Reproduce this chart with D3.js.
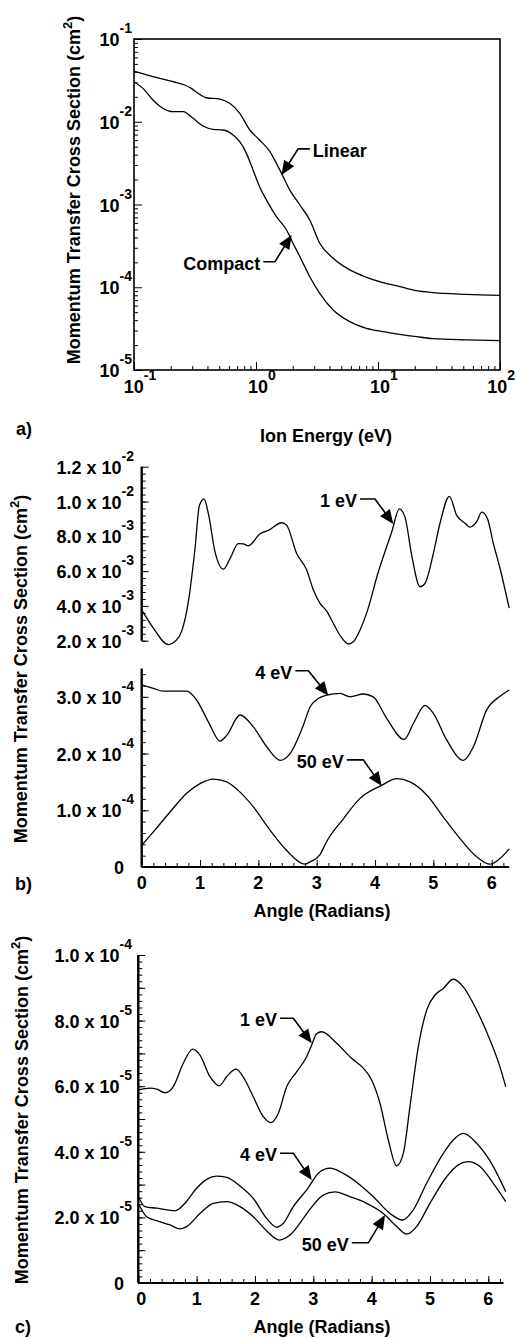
<!DOCTYPE html>
<html>
<head>
<meta charset="utf-8">
<script src="https://cdn.jsdelivr.net/npm/d3@7"></script>
<style>
body { margin: 0; background: #fff; }
svg text { font-family: "Liberation Sans", Arial, Helvetica, sans-serif; font-weight: bold; fill: #000; }
.tick line { stroke: #000; stroke-width: 1; }
</style>
</head>
<body>
<svg id="fig"></svg>
<script>
var w = 516;
var h = 1338;

// ---- panel a: cross section vs ion energy (log-log)
var energyLinear = [0.1, 0.143, 0.209, 0.260, 0.295, 0.346, 0.392, 0.505, 0.609, 0.736, 0.889, 1.07, 1.30, 1.47, 1.67, 1.89, 2.29, 2.76, 3.33, 4.29, 5.87, 8.05, 11.0, 15.1, 20.7, 28.4, 53.2, 100];
var sigmaLinear = [0.0410, 0.0351, 0.0305, 0.0278, 0.0253, 0.0214, 0.0195, 0.0188, 0.0167, 0.01265, 0.00795, 0.00602, 0.00435, 0.00314, 0.00217, 0.00150, 0.000986, 0.000650, 0.000340, 0.000224, 0.000162, 0.000132, 0.000114, 0.000102, 0.0000910, 0.0000861, 0.0000821, 0.0000798];
var energyCompact = [0.1, 0.1185, 0.143, 0.173, 0.209, 0.253, 0.305, 0.368, 0.445, 0.537, 0.649, 0.736, 0.835, 0.946, 1.07, 1.22, 1.47, 1.78, 2.01, 2.29, 2.76, 3.33, 4.29, 5.87, 8.05, 11.0, 15.1, 20.7, 28.4, 53.2, 100];
var sigmaCompact = [0.0305, 0.0253, 0.0183, 0.0145, 0.01324, 0.01324, 0.0110, 0.00889, 0.00810, 0.00795, 0.00692, 0.00574, 0.00415, 0.00261, 0.00164, 0.00113, 0.000713, 0.000492, 0.000340, 0.000234, 0.000134, 0.0000845, 0.0000531, 0.0000384, 0.0000319, 0.0000291, 0.0000270, 0.0000253, 0.0000239, 0.0000231, 0.0000226];
var aXTicks = [0.1, 1, 10, 100];
var aXExp = ["-1", "0", "1", "2"];
var aYTicks = [1e-5, 1e-4, 1e-3, 1e-2, 1e-1];
var aYExp = ["-5", "-4", "-3", "-2", "-1"];

// ---- panel b: cross section vs angle, broken axis
var angleB1 = [0, 0.2, 0.457, 0.571, 0.686, 0.8, 0.914, 0.989, 1.069, 1.143, 1.257, 1.40, 1.514, 1.657, 1.742, 1.829, 2.029, 2.171, 2.40, 2.486, 2.657, 2.829, 2.943, 3.057, 3.171, 3.285, 3.40, 3.543, 3.628, 3.743, 3.857, 4.057, 4.286, 4.417, 4.514, 4.629, 4.771, 4.857, 5.0, 5.114, 5.274, 5.40, 5.543, 5.629, 5.743, 5.829, 5.929, 6.028, 6.143, 6.3];
var sigmaB1 = [3.77e-3, 2.72e-3, 1.77e-3, 1.95e-3, 2.55e-3, 4.25e-3, 7.30e-3, 9.77e-3, 10.15e-3, 9.30e-3, 7.10e-3, 6.11e-3, 6.72e-3, 7.58e-3, 7.56e-3, 7.45e-3, 8.15e-3, 8.34e-3, 8.78e-3, 8.63e-3, 7.01e-3, 6.06e-3, 4.91e-3, 4.15e-3, 3.70e-3, 3.00e-3, 2.30e-3, 1.81e-3, 1.94e-3, 2.62e-3, 3.60e-3, 5.96e-3, 8.25e-3, 9.58e-3, 9.10e-3, 6.91e-3, 5.10e-3, 5.30e-3, 7.02e-3, 8.75e-3, 10.30e-3, 9.20e-3, 8.75e-3, 8.53e-3, 8.84e-3, 9.39e-3, 9.00e-3, 7.59e-3, 6.15e-3, 3.87e-3];
var angleB4 = [0, 0.2, 0.371, 0.771, 0.943, 1.143, 1.343, 1.457, 1.686, 1.914, 2.143, 2.371, 2.543, 2.771, 2.886, 3.0, 3.171, 3.4, 3.571, 3.8, 3.97, 4.2, 4.5, 4.657, 4.857, 5.0, 5.229, 5.514, 5.686, 5.914, 6.143, 6.3];
var sigmaB4 = [3.21e-4, 3.15e-4, 3.10e-4, 3.10e-4, 2.94e-4, 2.56e-4, 2.22e-4, 2.32e-4, 2.68e-4, 2.47e-4, 2.12e-4, 1.88e-4, 2.00e-4, 2.50e-4, 2.82e-4, 2.95e-4, 3.03e-4, 3.06e-4, 3.00e-4, 3.05e-4, 3.00e-4, 2.62e-4, 2.25e-4, 2.53e-4, 2.85e-4, 2.71e-4, 2.24e-4, 1.88e-4, 2.12e-4, 2.77e-4, 3.01e-4, 3.12e-4];
var angleB50 = [0, 0.2, 0.486, 0.771, 1.0, 1.229, 1.457, 1.686, 1.914, 2.2, 2.486, 2.8, 2.886, 3.057, 3.171, 3.457, 3.743, 4.114, 4.371, 4.6, 4.886, 5.171, 5.457, 5.743, 5.971, 6.143, 6.3];
var sigmaB50 = [0.38e-4, 0.62e-4, 0.97e-4, 1.30e-4, 1.47e-4, 1.55e-4, 1.50e-4, 1.32e-4, 1.06e-4, 0.65e-4, 0.29e-4, 0.05e-4, 0.09e-4, 0.22e-4, 0.45e-4, 0.85e-4, 1.21e-4, 1.44e-4, 1.56e-4, 1.50e-4, 1.27e-4, 0.88e-4, 0.50e-4, 0.18e-4, 0.05e-4, 0.15e-4, 0.32e-4];
var bTopTicks = [2e-3, 4e-3, 6e-3, 8e-3, 1.0e-2, 1.2e-2];
var bTopLabels = ["2.0 x 10", "4.0 x 10", "6.0 x 10", "8.0 x 10", "1.0 x 10", "1.2 x 10"];
var bTopExp = ["-3", "-3", "-3", "-3", "-2", "-2"];
var bLowTicks = [0, 1e-4, 2e-4, 3e-4];
var bLowLabels = ["0", "1.0 x 10", "2.0 x 10", "3.0 x 10"];
var bLowExp = ["", "-4", "-4", "-4"];
var angleTicks = [0, 1, 2, 3, 4, 5, 6];
var angleLabels = ["0", "1", "2", "3", "4", "5", "6"];

// ---- panel c
var angleC1 = [0, 0.2, 0.314, 0.457, 0.6, 0.771, 0.932, 1.057, 1.229, 1.389, 1.514, 1.675, 1.829, 1.971, 2.143, 2.269, 2.40, 2.543, 2.714, 2.886, 2.971, 3.057, 3.143, 3.40, 3.657, 3.857, 4.0, 4.143, 4.286, 4.429, 4.543, 4.657, 4.80, 4.943, 5.086, 5.229, 5.40, 5.571, 5.80, 6.029, 6.2, 6.3];
var sigmaC1 = [5.88e-5, 5.94e-5, 5.91e-5, 5.80e-5, 5.99e-5, 6.70e-5, 7.13e-5, 6.95e-5, 6.29e-5, 6.01e-5, 6.29e-5, 6.52e-5, 6.19e-5, 5.68e-5, 5.07e-5, 4.89e-5, 5.17e-5, 5.98e-5, 6.44e-5, 6.90e-5, 7.25e-5, 7.60e-5, 7.66e-5, 7.31e-5, 6.85e-5, 6.55e-5, 6.19e-5, 5.48e-5, 4.36e-5, 3.57e-5, 3.95e-5, 5.38e-5, 7.20e-5, 8.32e-5, 8.78e-5, 8.98e-5, 9.26e-5, 9.03e-5, 8.32e-5, 7.41e-5, 6.59e-5, 5.98e-5];
var angleC4 = [0, 0.114, 0.314, 0.486, 0.629, 0.8, 1.0, 1.171, 1.343, 1.514, 1.743, 1.971, 2.20, 2.371, 2.486, 2.657, 2.886, 3.114, 3.286, 3.514, 3.80, 4.029, 4.314, 4.532, 4.714, 4.943, 5.229, 5.40, 5.571, 5.80, 6.086, 6.3];
var sigmaC4 = [2.63e-5, 2.33e-5, 2.28e-5, 2.23e-5, 2.20e-5, 2.43e-5, 2.89e-5, 3.16e-5, 3.26e-5, 3.22e-5, 2.96e-5, 2.58e-5, 1.97e-5, 1.70e-5, 1.82e-5, 2.33e-5, 2.84e-5, 3.39e-5, 3.50e-5, 3.34e-5, 2.99e-5, 2.63e-5, 2.12e-5, 1.92e-5, 2.23e-5, 3.04e-5, 3.95e-5, 4.36e-5, 4.56e-5, 4.26e-5, 3.55e-5, 2.78e-5];
var angleC50 = [0, 0.143, 0.314, 0.543, 0.714, 0.829, 1.057, 1.286, 1.514, 1.743, 1.971, 2.20, 2.417, 2.60, 2.829, 2.943, 3.171, 3.371, 3.629, 3.914, 4.20, 4.429, 4.60, 4.771, 5.0, 5.286, 5.486, 5.657, 5.857, 6.086, 6.3];
var sigmaC50 = [2.43e-5, 2.02e-5, 1.90e-5, 1.77e-5, 1.65e-5, 1.72e-5, 2.12e-5, 2.43e-5, 2.48e-5, 2.33e-5, 2.02e-5, 1.59e-5, 1.31e-5, 1.46e-5, 1.97e-5, 2.25e-5, 2.68e-5, 2.78e-5, 2.63e-5, 2.43e-5, 2.12e-5, 1.72e-5, 1.49e-5, 1.72e-5, 2.43e-5, 3.24e-5, 3.60e-5, 3.70e-5, 3.55e-5, 3.04e-5, 2.48e-5];
var cYTicks = [0, 2e-5, 4e-5, 6e-5, 8e-5, 1e-4];
var cYLabels = ["0", "2.0 x 10", "4.0 x 10", "6.0 x 10", "8.0 x 10", "1.0 x 10"];
var cYExp = ["", "-5", "-5", "-5", "-5", "-4"];

let svg = d3.select("#fig")
    .attr("width", w)
    .attr("height", h);
svg.append("rect").attr("width", w).attr("height", h).attr("fill", "#fff");

// text with a raised exponent
function supText(g, x, y, base, exp, anchor) {
    let t = g.append("text")
        .attr("x", x).attr("y", y)
        .attr("text-anchor", anchor)
        .style("font-size", "18px");
    t.append("tspan").text(base);
    if (exp) t.append("tspan").attr("dy", -13).style("font-size", "14px").text(exp);
    return t;
}

function tickSet(g, axis, vals, len) {
    g.call(axis.tickValues(vals).tickSizeInner(-len).tickSizeOuter(0).tickFormat(""))
        .call(s => s.select(".domain").remove());
}

function curve(g, xs, ys, xScale, yScale) {
    let line = d3.line()
        .x(d => xScale(d[0]))
        .y(d => yScale(d[1]))
        .curve(d3.curveMonotoneX);
    g.append("path")
        .datum(d3.zip(xs, ys))
        .attr("d", line)
        .attr("fill", "none")
        .attr("stroke", "#000")
        .attr("stroke-width", 1.3);
}

// label with bent leader and filled arrow head
function arrowLabel(g, tx, ty, dx, dy, hlen, label) {
    let bx = tx + dx, by = ty + dy;
    let ex = bx - hlen;
    let len = Math.hypot(tx - bx, ty - by);
    let ux = (tx - bx) / len, uy = (ty - by) / len;
    let head = 14, half = 6;
    let cx = tx - ux * head, cy = ty - uy * head;
    g.append("path")
        .attr("d", `M${ex},${by}L${bx},${by}L${cx + ux * 2},${cy + uy * 2}`)
        .attr("fill", "none").attr("stroke", "#000").attr("stroke-width", 1.6);
    g.append("path")
        .attr("d", `M${tx},${ty}L${cx - uy * half},${cy + ux * half}L${cx + uy * half},${cy - ux * half}Z`)
        .attr("fill", "#000");
    let anchor = hlen > 0 ? "end" : "start";
    g.append("text")
        .attr("x", hlen > 0 ? ex - 3 : ex + 3)
        .attr("y", by + 8)
        .attr("text-anchor", anchor)
        .style("font-size", "18px")
        .text(label);
}

function yTitle(x, y) {
    let t = svg.append("text")
        .attr("transform", `translate(${x},${y}) rotate(-90)`)
        .attr("text-anchor", "middle")
        .style("font-size", "18px");
    t.append("tspan").text("Momentum Transfer Cross Section (cm");
    t.append("tspan").attr("dy", -8).style("font-size", "13px").text("2");
    t.append("tspan").attr("dy", 8).text(")");
}

function plainText(x, y, s, anchor) {
    svg.append("text").attr("x", x).attr("y", y)
        .attr("text-anchor", anchor || "middle")
        .style("font-size", "18px").text(s);
}

//panel a
let xA = d3.scaleLog().domain([0.1, 100]).range([134, 500]);
let yA = d3.scaleLog().domain([1e-5, 1e-1]).range([370, 39]);
let gA = svg.append("g");
let minorA = [];
for (let e = -5; e < -1; e++) for (let k = 2; k < 10; k++) minorA.push(k * Math.pow(10, e));
let minorAX = [];
for (let e = -1; e < 2; e++) for (let k = 2; k < 10; k++) minorAX.push(k * Math.pow(10, e));
tickSet(gA.append("g").attr("transform", "translate(134,0)"), d3.axisLeft(yA), aYTicks, 8);
tickSet(gA.append("g").attr("transform", "translate(134,0)"), d3.axisLeft(yA), minorA, 4);
tickSet(gA.append("g").attr("transform", "translate(0,370)"), d3.axisBottom(xA), aXTicks, 8);
tickSet(gA.append("g").attr("transform", "translate(0,370)"), d3.axisBottom(xA), minorAX, 4);
gA.append("rect")
    .attr("x", 134).attr("y", 39).attr("width", 366).attr("height", 331)
    .attr("fill", "none").attr("stroke", "#000").attr("stroke-width", 1.6);
curve(gA, energyLinear, sigmaLinear, xA, yA);
curve(gA, energyCompact, sigmaCompact, xA, yA);
aYTicks.forEach((v, i) => supText(gA, 132, yA(v) + 7, "10", aYExp[i], "end"));
aXTicks.forEach((v, i) => {
    if (i == aXTicks.length - 1) supText(gA, 515, 393, "10", aXExp[i], "end");
    else supText(gA, xA(v) + 6, 393, "10", aXExp[i], "middle");
});
arrowLabel(gA, xA(1.62), yA(0.00228), 16.6, -26, -11.7, "Linear");
arrowLabel(gA, xA(1.96), yA(0.000428), -16.7, 26.7, 11.7, "Compact");
yTitle(79.5, 190);
plainText(326, 441.5, "Ion Energy (eV)");
plainText(16, 434.5, "a)", "start");

//panel b
let xB = d3.scaleLinear().domain([0, 6.3]).range([141.7, 509.2]);
let yBTop = d3.scaleLinear().domain([2e-3, 1.2e-2]).range([640.7, 466.7]);
let yBLow = d3.scaleLinear().domain([0, 3.5e-4]).range([867, 668.5]);
let gB = svg.append("g");
tickSet(gB.append("g").attr("transform", "translate(141.7,0)"), d3.axisLeft(yBTop), bTopTicks, 7);
tickSet(gB.append("g").attr("transform", "translate(141.7,0)"), d3.axisLeft(yBTop), d3.range(2e-3, 1.2e-2, 4e-4), 4);
tickSet(gB.append("g").attr("transform", "translate(141.7,0)"), d3.axisLeft(yBLow), bLowTicks, 7);
tickSet(gB.append("g").attr("transform", "translate(141.7,0)"), d3.axisLeft(yBLow), d3.range(0, 3.5e-4, 2e-5), 4);
tickSet(gB.append("g").attr("transform", "translate(0,867)"), d3.axisBottom(xB), angleTicks, 7);
tickSet(gB.append("g").attr("transform", "translate(0,867)"), d3.axisBottom(xB), d3.range(0, 6.3, 0.2), 4);
gB.append("line").attr("x1", 141.7).attr("x2", 141.7).attr("y1", yBTop.range()[1]).attr("y2", yBTop.range()[0])
    .attr("stroke", "#000").attr("stroke-width", 2.4);
gB.append("line").attr("x1", 141.7).attr("x2", 141.7).attr("y1", yBLow.range()[1]).attr("y2", 867)
    .attr("stroke", "#000").attr("stroke-width", 2.4);
gB.append("line").attr("x1", 141.7).attr("x2", 509.2).attr("y1", 867).attr("y2", 867)
    .attr("stroke", "#000").attr("stroke-width", 2);
curve(gB, angleB1, sigmaB1, xB, yBTop);
curve(gB, angleB4, sigmaB4, xB, yBLow);
curve(gB, angleB50, sigmaB50, xB, yBLow);
bTopTicks.forEach((v, i) => supText(gB, 134, yBTop(v) + 7, bTopLabels[i], bTopExp[i], "end"));
bLowTicks.forEach((v, i) => supText(gB, i == 0 ? 124 : 134, yBLow(v) + 7, bLowLabels[i], bLowExp[i], "end"));
angleTicks.forEach((v, i) => supText(gB, xB(v), 888.5, angleLabels[i], "", "middle"));
arrowLabel(gB, xB(4.313), yBTop(8.71e-3), -18.3, -25, 15, "1 eV");
arrowLabel(gB, xB(3.2), yBLow(3.02e-4), -20, -25, 13, "4 eV");
arrowLabel(gB, xB(4.115), yBLow(1.43e-4), -18.4, -26, 16.6, "50 eV");
yTitle(26.5, 669);
plainText(322, 916.5, "Angle (Radians)");
plainText(15, 889.5, "b)", "start");

//panel c
let xC = d3.scaleLinear().domain([0, 6.3]).range([138.3, 505.8]);
let yC = d3.scaleLinear().domain([0, 1e-4]).range([1283, 955]);
let gC = svg.append("g");
tickSet(gC.append("g").attr("transform", "translate(138.3,0)"), d3.axisLeft(yC), d3.range(0, 1.01e-4, 1e-5), 7);
tickSet(gC.append("g").attr("transform", "translate(138.3,0)"), d3.axisLeft(yC), d3.range(0, 1e-4, 2e-6), 4);
tickSet(gC.append("g").attr("transform", "translate(0,1283)"), d3.axisBottom(xC), angleTicks, 7);
tickSet(gC.append("g").attr("transform", "translate(0,1283)"), d3.axisBottom(xC), d3.range(0, 6.3, 0.2), 4);
gC.append("line").attr("x1", 138.3).attr("x2", 138.3).attr("y1", 955).attr("y2", 1283)
    .attr("stroke", "#000").attr("stroke-width", 2.4);
gC.append("line").attr("x1", 138.3).attr("x2", 503.5).attr("y1", 1283).attr("y2", 1283)
    .attr("stroke", "#000").attr("stroke-width", 2);
curve(gC, angleC1, sigmaC1, xC, yC);
curve(gC, angleC4, sigmaC4, xC, yC);
curve(gC, angleC50, sigmaC50, xC, yC);
cYTicks.forEach((v, i) => supText(gC, i == 0 ? 124 : 132, yC(v) + 7, cYLabels[i], cYExp[i], "end"));
angleTicks.forEach((v, i) => supText(gC, xC(v) + (i == 0 ? 3 : 0), 1305, angleLabels[i], "", "middle"));
arrowLabel(gC, xC(2.973), yC(7.31e-5), -18.4, -25, 13.3, "1 eV");
arrowLabel(gC, xC(2.973), yC(3.14e-5), -18.4, -26.7, 13.3, "4 eV");
arrowLabel(gC, xC(4.23), yC(2.07e-5), -16.7, 27.7, 16.6, "50 eV");
yTitle(28, 1110);
plainText(322, 1333, "Angle (Radians)");
plainText(15, 1333, "c)", "start");
</script>
</body>
</html>
